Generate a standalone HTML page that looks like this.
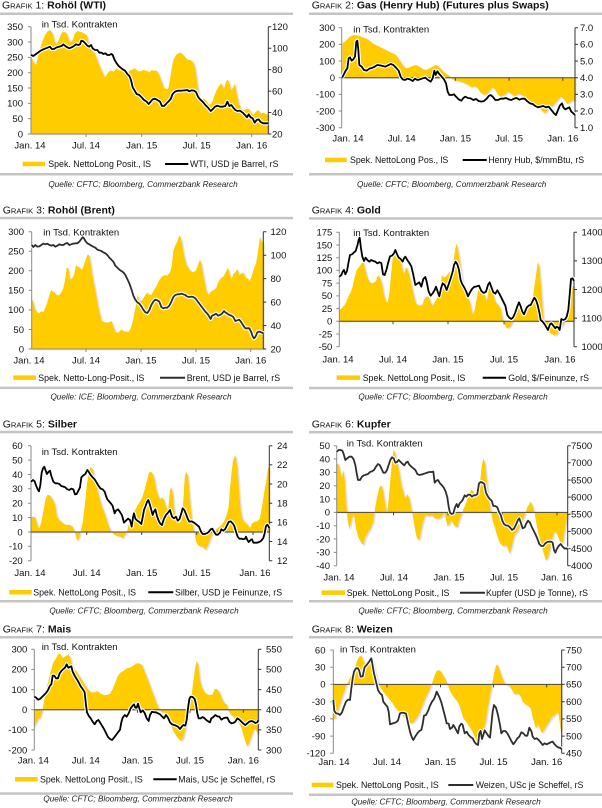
<!DOCTYPE html>
<html><head><meta charset="utf-8">
<style>
html,body{margin:0;padding:0;background:#fff;}
svg{display:block;font-family:"Liberation Sans",Arial,sans-serif;}
.tl{font-size:9.5px;fill:#111;}
.lg{font-size:8.8px;fill:#111;}
.src{font-size:8.2px;font-style:italic;fill:#222;}
.ttl{font-size:10.5px;fill:#111;}
.ax{stroke:#8a8a8a;stroke-width:1;fill:none;}
.axr{stroke:#333;stroke-width:1;fill:none;}
.zl{stroke:#444;stroke-width:1;fill:none;}
.ar{fill:#FFCC00;stroke:none;}
.rule{fill:#c4c4c4;}
</style></head>
<body>
<svg width="602" height="808" viewBox="0 0 602 808" xmlns="http://www.w3.org/2000/svg">
<defs>
<filter id="sh" x="-5%" y="-5%" width="110%" height="115%">
<feDropShadow dx="4" dy="3" stdDeviation="1.5" flood-color="#c8c8c8" flood-opacity="0.7"/>
</filter>
</defs>

<!-- ================= CHART 1 ================= -->
<text class="ttl" x="2" y="8.5">G<tspan font-size="7.6">RAFIK</tspan> 1: <tspan font-weight="bold">Rohöl (WTI)</tspan></text>
<rect class="rule" x="0" y="12.5" width="293" height="2.5"/>
<g transform="translate(0,0) scale(0.33333)">
<path class="ar" filter="url(#sh)" d="M93,402 L93,170 100,185 108,195 115,165 125,130 135,105 142,95 150,90 158,100 165,128 172,130 180,110 185,98 192,95 200,100 210,128 218,120 225,100 232,93 240,95 248,98 256,102 262,110 268,140 275,150 285,160 292,180 300,200 308,218 315,232 322,220 330,212 340,215 350,205 358,212 365,210 375,218 382,218 390,212 398,208 405,205 412,212 420,215 430,210 440,212 448,218 455,210 462,212 470,212 478,225 485,245 492,262 500,268 505,265 510,240 515,205 520,180 528,165 535,160 542,158 550,165 558,175 565,180 572,180 580,188 586,205 592,250 598,290 605,300 612,295 620,305 628,315 635,310 642,290 650,270 657,258 663,250 668,258 672,268 678,245 683,238 688,250 694,270 700,262 705,250 710,280 716,308 722,325 730,330 738,328 745,326 752,335 760,345 768,335 775,330 782,340 790,338 798,342 805,345 L805,402 Z"/>
</g>
<path class="ax" d="M31,26.7V134H268.3"/>
<path class="axr" d="M268.3,26.7V134"/>
<path class="ax" d="M28,26.7h3M28,42h3M28,57.4h3M28,72.7h3M28,88h3M28,103.4h3M28,118.7h3M28,134h3M86,134v3M141.7,134v3M196.7,134v3M251.7,134v3"/>
<path class="axr" d="M268.3,26.7h3M268.3,48.2h3M268.3,69.6h3M268.3,91.1h3M268.3,112.5h3M268.3,134h3"/>
<g transform="translate(0,0) scale(0.33333)" fill="none" stroke-linejoin="round">
<use href="#L1" stroke="#fff" stroke-width="12"/>
<g stroke="#000" stroke-width="5.4"><path id="L1" d="M93,165 100,168 108,162 115,157 122,152 130,148 138,145 145,142 150,140 155,147 162,147 170,142 178,140 185,138 190,133 196,138 202,142 208,145 215,142 222,138 228,133 235,135 240,133 244,122 250,124 256,130 262,137 268,140 273,135 278,145 285,150 292,150 298,158 305,158 310,162 316,160 322,165 328,165 334,162 338,165 344,180 350,190 356,198 362,203 368,208 375,212 382,222 388,228 393,240 398,262 404,272 410,282 418,285 425,292 432,300 440,305 446,312 452,305 458,298 465,296 472,300 480,305 486,318 492,318 498,312 505,305 512,297 518,282 525,275 535,272 545,272 555,271 562,270 568,274 575,271 582,272 588,276 594,290 600,298 608,305 616,315 624,323 632,333 638,328 645,320 652,317 660,320 668,320 676,318 682,305 688,318 694,315 700,323 706,330 712,333 720,332 728,338 735,345 741,352 746,343 752,352 758,355 764,368 770,360 776,358 782,366 790,370 798,370 805,370"/></g>
</g>
<g class="tl" text-anchor="end">
<text x="23" y="30">350</text><text x="23" y="45.3">300</text><text x="23" y="60.7">250</text><text x="23" y="76">200</text><text x="23" y="91.3">150</text><text x="23" y="106.7">100</text><text x="23" y="122">50</text><text x="23" y="137.3">0</text>
</g>
<g class="tl">
<text x="272" y="30">120</text><text x="272" y="51.5">100</text><text x="272" y="72.9">80</text><text x="272" y="94.4">60</text><text x="272" y="115.8">40</text><text x="272" y="137.3">20</text>
</g>
<g class="tl" text-anchor="middle">
<text x="30" y="148.3">Jan. 14</text><text x="86" y="148.3">Jul. 14</text><text x="141.7" y="148.3">Jan. 15</text><text x="196.7" y="148.3">Jul. 15</text><text x="251.7" y="148.3">Jan. 16</text>
</g>
<text class="tl" x="41.7" y="27.6">in Tsd. Kontrakten</text>
<rect x="22.7" y="161.7" width="22.3" height="4.5" fill="#FFCC00"/>
<text class="lg" x="48.3" y="167.2">Spek. NettoLong Posit., lS</text>
<line x1="165" y1="164" x2="188.3" y2="164" stroke="#000" stroke-width="2"/>
<text class="lg" x="190" y="167.2">WTI, USD je Barrel, rS</text>
<rect class="rule" x="0" y="173" width="293" height="2.5"/>
<text class="src" x="143" y="187" text-anchor="middle">Quelle: CFTC; Bloomberg, Commerzbank Research</text>

<!-- ================= CHART 2 ================= -->
<text class="ttl" x="311.7" y="8.5">G<tspan font-size="7.6">RAFIK</tspan> 2: <tspan font-weight="bold">Gas (Henry Hub) (Futures plus Swaps)</tspan></text>
<rect class="rule" x="309" y="12.5" width="293" height="2.5"/>
<g transform="translate(300,0) scale(0.33333)">
<path class="ar" filter="url(#sh)" d="M127,233 L127,130 135,125 142,118 150,110 158,106 168,105 178,108 188,112 198,115 208,122 218,130 228,135 238,140 248,145 258,150 268,155 278,160 288,165 298,180 308,195 318,205 328,202 338,198 348,195 358,200 368,207 378,210 388,205 398,200 408,195 415,198 422,206 430,215 440,222 448,228 455,236 465,242 475,243 485,246 495,250 505,255 515,262 525,258 533,265 542,278 552,285 562,282 570,270 578,262 586,270 594,285 604,290 614,285 624,275 634,282 644,290 654,280 664,285 674,290 684,298 694,305 704,314 714,320 724,330 733,340 742,332 752,322 762,314 772,302 782,290 792,298 802,312 812,305 825,300 L825,233 Z"/>
</g>
<path class="ax" d="M341.7,27.7V127.7"/>
<path class="zl" d="M341.7,77.7H575"/>
<path class="axr" d="M575,27.7V127.7"/>
<path class="ax" d="M338.7,27.7h3M338.7,44.4h3M338.7,61h3M338.7,77.7h3M338.7,94.4h3M338.7,111h3M338.7,127.7h3"/>
<path class="zl" d="M401.7,77.7v3M455.4,77.7v3M509.1,77.7v3M562.8,77.7v3"/>
<path class="axr" d="M575,27.7h3M575,44.4h3M575,61h3M575,77.7h3M575,94.4h3M575,111h3M575,127.7h3"/>
<g transform="translate(300,0) scale(0.33333)" fill="none" stroke-linejoin="round">
<use href="#L2" stroke="#fff" stroke-width="12"/>
<g stroke="#000" stroke-width="5.4"><path id="L2" d="M127,232 132,222 137,212 142,205 146,175 150,172 155,182 160,178 165,170 169,125 172,122 175,150 178,195 185,200 192,210 200,212 208,206 216,204 224,200 232,195 240,196 248,198 256,200 264,196 272,192 280,195 288,203 296,212 302,230 308,238 315,240 322,236 330,238 338,243 345,236 352,240 360,238 368,235 376,233 384,240 392,245 398,235 403,212 407,225 412,214 418,222 425,230 432,238 438,250 443,275 448,285 455,285 462,283 468,290 476,298 484,302 490,294 496,290 504,294 512,295 520,300 528,297 536,303 544,305 552,303 560,296 566,288 572,285 578,290 586,300 594,300 602,296 610,296 618,294 626,298 634,300 642,296 650,294 658,299 666,296 674,296 682,304 690,310 698,312 706,318 714,322 722,320 730,318 738,322 746,320 754,330 762,340 768,345 774,330 780,316 786,310 790,322 796,328 802,325 808,322 814,335 820,340 825,345"/></g>
</g>
<g class="tl" text-anchor="end">
<text x="335" y="31">300</text><text x="335" y="47.7">200</text><text x="335" y="64.3">100</text><text x="335" y="81">0</text><text x="335" y="97.7">-100</text><text x="335" y="114.3">-200</text><text x="335" y="131">-300</text>
</g>
<g class="tl">
<text x="580" y="31">7.0</text><text x="580" y="47.7">6.0</text><text x="580" y="64.3">5.0</text><text x="580" y="81">4.0</text><text x="580" y="97.7">3.0</text><text x="580" y="114.3">2.0</text><text x="580" y="131">1.0</text>
</g>
<g class="tl" text-anchor="middle">
<text x="348" y="141.3">Jan. 14</text><text x="401.7" y="141.3">Jul. 14</text><text x="455.4" y="141.3">Jan. 15</text><text x="509.1" y="141.3">Jul. 15</text><text x="562.8" y="141.3">Jan. 16</text>
</g>
<text class="tl" x="353.3" y="32.6">in Tsd. Kontrakten</text>
<rect x="325" y="157.7" width="21.7" height="4.5" fill="#FFCC00"/>
<text class="lg" x="350" y="163.2">Spek. NettoLong Pos., lS</text>
<line x1="462.7" y1="160" x2="486.7" y2="160" stroke="#000" stroke-width="2"/>
<text class="lg" x="488.3" y="163.2">Henry Hub, $/mmBtu, rS</text>
<rect class="rule" x="309" y="173" width="293" height="2.5"/>
<text class="src" x="451.7" y="187" text-anchor="middle">Quelle: CFTC; Bloomberg, Commerzbank Research</text>

<!-- ================= CHART 3 ================= -->
<text class="ttl" x="2.7" y="213.5">G<tspan font-size="7.6">RAFIK</tspan> 3: <tspan font-weight="bold">Rohöl (Brent)</tspan></text>
<rect class="rule" x="0" y="216.8" width="293" height="2.5"/>
<g transform="translate(0,195) scale(0.33333)">
<path class="ar" filter="url(#sh)" d="M95,462 L95,310 100,322 106,345 112,352 118,355 124,348 130,352 136,338 142,322 148,300 154,285 160,290 166,295 172,302 178,300 184,292 190,280 196,250 200,218 205,220 210,255 216,250 222,240 228,212 234,214 240,220 246,224 252,210 258,190 263,178 268,182 272,205 278,245 285,280 292,320 298,350 305,378 315,382 325,383 335,378 340,395 346,410 352,414 358,410 364,403 370,408 378,410 386,410 392,400 398,380 404,350 410,320 413,297 418,318 424,318 430,310 436,300 442,292 448,300 455,298 462,285 470,272 478,255 486,245 494,240 502,242 510,232 515,215 520,168 526,150 532,140 537,122 541,125 546,145 552,180 558,205 565,218 572,228 580,232 588,226 594,210 600,194 604,205 608,230 614,260 620,290 626,300 632,290 640,286 648,280 655,262 662,250 670,245 677,232 684,218 690,240 695,252 700,236 706,232 712,222 718,240 724,236 730,232 736,246 742,250 750,258 756,240 762,220 768,205 772,185 776,155 780,125 784,138 790,145 L790,462 Z"/>
</g>
<path class="ax" d="M31.7,231.7V349H263.3"/>
<path class="axr" d="M263.3,231.7V349"/>
<path class="ax" d="M28.7,231.7h3M28.7,251.3h3M28.7,270.8h3M28.7,290.4h3M28.7,309.9h3M28.7,329.5h3M28.7,349h3M86,349v3M141,349v3M196,349v3M250.7,349v3"/>
<path class="axr" d="M263.3,231.7h3M263.3,255.2h3M263.3,278.6h3M263.3,302.1h3M263.3,325.5h3M263.3,349h3"/>
<g transform="translate(0,195) scale(0.33333)" fill="none" stroke-linejoin="round">
<use href="#L3" stroke="#fff" stroke-width="12"/>
<g stroke="#2e2e2e" stroke-width="5.4"><path id="L3" d="M95,150 100,156 106,150 112,155 118,154 124,150 130,146 136,148 142,146 148,150 154,152 160,150 166,155 172,152 178,148 184,150 190,150 196,146 202,144 208,150 214,148 220,146 226,145 232,145 238,140 244,132 248,127 252,130 256,138 262,145 268,148 274,152 280,155 286,158 292,164 298,166 304,168 310,172 316,175 322,180 328,188 334,194 340,200 346,212 352,218 358,224 364,228 370,232 376,240 382,252 388,265 394,282 400,302 406,314 412,322 418,326 424,334 430,344 436,352 442,354 448,345 454,330 460,320 466,314 472,316 478,320 484,336 490,340 496,338 502,338 508,332 514,320 520,306 526,300 532,298 538,298 544,296 550,298 556,300 562,305 568,306 574,305 580,306 586,310 592,318 598,326 604,334 610,342 616,350 622,356 628,365 632,372 636,362 642,360 648,356 654,362 660,360 666,356 672,348 676,352 682,356 688,360 694,362 700,366 706,378 712,376 718,374 724,382 730,392 736,400 742,400 748,400 754,412 758,424 762,430 766,426 772,412 778,410 784,412 790,415"/></g>
</g>
<g class="tl" text-anchor="end">
<text x="24" y="235">300</text><text x="24" y="254.6">250</text><text x="24" y="274.1">200</text><text x="24" y="293.7">150</text><text x="24" y="313.2">100</text><text x="24" y="332.8">50</text><text x="24" y="352.3">0</text>
</g>
<g class="tl">
<text x="270.5" y="235">120</text><text x="270.5" y="258.5">100</text><text x="270.5" y="281.9">80</text><text x="270.5" y="305.4">60</text><text x="270.5" y="328.8">40</text><text x="270.5" y="352.3">20</text>
</g>
<g class="tl" text-anchor="middle">
<text x="29" y="363.3">Jan. 14</text><text x="86" y="363.3">Jul. 14</text><text x="141" y="363.3">Jan. 15</text><text x="196" y="363.3">Jul. 15</text><text x="250.7" y="363.3">Jan. 16</text>
</g>
<text class="tl" x="43.3" y="235.6">in Tsd. Kontrakten</text>
<rect x="13.3" y="375.4" width="22.7" height="4.5" fill="#FFCC00"/>
<text class="lg" x="38.3" y="380.9">Spek. Netto-Long-Posit., lS</text>
<line x1="160" y1="377.7" x2="185" y2="377.7" stroke="#2e2e2e" stroke-width="2"/>
<text class="lg" x="186.7" y="380.9">Brent, USD je Barrel, rS</text>
<rect class="rule" x="0" y="386.6" width="293" height="2.5"/>
<text class="src" x="141" y="399.7" text-anchor="middle">Quelle: ICE; Bloomberg, Commerzbank Research</text>

<!-- ================= CHART 4 ================= -->
<text class="ttl" x="311.7" y="213.5">G<tspan font-size="7.6">RAFIK</tspan> 4: <tspan font-weight="bold">Gold</tspan></text>
<rect class="rule" x="309" y="217.2" width="293" height="2.5"/>
<g transform="translate(300,195) scale(0.33333)">
<path class="ar" filter="url(#sh)" d="M118,378 L118,345 125,340 132,332 138,322 145,305 152,292 158,275 163,250 170,225 178,215 185,205 190,198 196,225 203,250 210,262 216,265 222,262 228,258 234,240 240,248 246,265 252,300 258,320 263,322 268,295 273,240 278,190 284,175 290,178 296,182 303,198 308,225 312,240 317,218 322,220 328,240 334,265 340,295 346,320 352,330 360,332 367,330 373,312 379,305 386,305 392,322 398,332 404,322 410,312 416,298 421,270 426,240 432,248 438,245 444,236 450,232 456,222 461,195 466,160 470,145 474,165 480,200 486,245 492,275 498,298 504,308 510,322 515,345 519,360 524,345 529,315 535,285 541,288 548,292 554,300 560,318 564,300 569,262 574,270 580,298 586,320 594,328 602,340 608,370 614,390 620,400 626,398 632,392 638,382 644,362 650,340 655,320 660,335 666,352 672,352 678,342 684,330 690,325 696,312 700,298 705,262 710,225 714,200 718,215 722,258 726,310 730,365 734,398 740,408 746,410 752,415 758,418 764,422 770,418 776,410 782,400 788,390 794,382 800,360 806,325 812,295 818,275 822,270 L822,378 Z"/>
</g>
<path class="ax" d="M339.3,232.3V346.7"/>
<path class="zl" d="M339.3,321.3H574"/>
<path class="axr" d="M574,232.3V346.7"/>
<path class="ax" d="M336.3,232.3h3M336.3,245h3M336.3,257.7h3M336.3,270.4h3M336.3,283.1h3M336.3,295.9h3M336.3,308.6h3M336.3,321.3h3M336.3,334h3M336.3,346.7h3"/>
<path class="zl" d="M393,321.3v3M448,321.3v3M504,321.3v3M560,321.3v3"/>
<path class="axr" d="M574,232.3h3M574,260.9h3M574,289.5h3M574,318.1h3M574,346.7h3"/>
<g transform="translate(300,195) scale(0.33333)" fill="none" stroke-linejoin="round">
<use href="#L4" stroke="#fff" stroke-width="12"/>
<g stroke="#000" stroke-width="5.4"><path id="L4" d="M118,245 124,240 128,230 132,225 136,238 141,228 146,200 150,180 156,178 162,172 167,168 172,152 176,135 179,128 183,160 187,185 192,198 197,188 202,195 208,200 214,195 220,198 226,200 232,205 238,202 244,204 249,238 254,240 260,222 264,205 270,184 276,182 282,175 286,165 290,175 296,188 302,192 308,200 312,190 316,185 322,195 328,204 334,214 340,240 346,270 352,266 358,262 364,275 370,252 376,246 380,260 386,290 392,302 398,295 404,285 408,275 413,290 418,304 423,280 428,265 434,270 440,285 446,268 452,250 458,230 462,210 467,200 472,208 477,225 482,256 487,268 492,276 498,288 504,304 510,292 516,282 522,276 530,274 537,272 544,288 551,294 558,290 564,270 569,262 574,276 580,292 586,296 592,286 598,296 604,308 610,320 616,332 622,360 628,368 634,372 640,366 646,352 652,334 657,322 662,334 667,350 672,358 676,348 680,338 686,332 692,330 698,318 703,308 708,315 713,330 718,352 722,375 728,380 734,388 740,398 744,405 750,388 754,385 760,392 766,400 770,395 775,398 779,405 784,372 790,375 796,372 800,365 805,345 809,300 813,252 818,250 822,258"/></g>
</g>
<g class="tl" text-anchor="end">
<text x="332.3" y="235.6">175</text><text x="332.3" y="248.3">150</text><text x="332.3" y="261">125</text><text x="332.3" y="273.7">100</text><text x="332.3" y="286.4">75</text><text x="332.3" y="299.2">50</text><text x="332.3" y="311.9">25</text><text x="332.3" y="324.6">0</text><text x="332.3" y="337.3">-25</text><text x="332.3" y="350">-50</text>
</g>
<g class="tl">
<text x="581.5" y="235.6">1400</text><text x="581.5" y="264.2">1300</text><text x="581.5" y="292.8">1200</text><text x="581.5" y="321.4">1100</text><text x="581.5" y="350">1000</text>
</g>
<g class="tl" text-anchor="middle">
<text x="338" y="362.3">Jan. 14</text><text x="393" y="362.3">Jul. 14</text><text x="448" y="362.3">Jan. 15</text><text x="504" y="362.3">Jul. 15</text><text x="560" y="362.3">Jan. 16</text>
</g>
<text class="tl" x="353.3" y="236">in Tsd. Kontrakten</text>
<rect x="336.7" y="375.4" width="23.3" height="4.5" fill="#FFCC00"/>
<text class="lg" x="362.7" y="380.9">Spek. NettoLong Posit., lS</text>
<line x1="482.7" y1="377.7" x2="506" y2="377.7" stroke="#000" stroke-width="2"/>
<text class="lg" x="508.3" y="380.9">Gold, $/Feinunze, rS</text>
<rect class="rule" x="309" y="386.8" width="293" height="2.5"/>
<text class="src" x="453" y="399.7" text-anchor="middle">Quelle: CFTC; Bloomberg, Commerzbank Research</text>

<!-- ================= CHART 5 ================= -->
<text class="ttl" x="2.7" y="427.5">G<tspan font-size="7.6">RAFIK</tspan> 5: <tspan font-weight="bold">Silber</tspan></text>
<rect class="rule" x="0" y="430.8" width="293" height="2.5"/>
<g transform="translate(0,400) scale(0.33333)">
<path class="ar" filter="url(#sh)" d="M93,396 L93,352 100,350 106,352 112,375 118,385 124,365 130,335 136,300 142,285 148,285 154,292 160,302 166,315 170,345 176,358 184,365 192,372 200,375 210,375 218,380 224,395 230,418 234,422 238,410 243,390 249,362 255,310 261,250 266,220 272,200 278,208 284,232 292,268 300,300 308,325 316,345 324,372 332,392 340,402 350,408 360,410 368,415 374,405 380,398 386,375 392,362 398,345 404,332 410,322 416,310 422,302 428,288 434,268 440,245 446,222 450,215 456,218 462,232 468,262 474,285 480,298 486,292 492,300 498,320 504,330 510,270 514,262 518,278 524,338 532,368 540,368 546,355 550,300 554,235 558,215 564,228 570,300 576,360 582,390 588,425 594,435 600,440 606,438 612,445 616,450 622,440 628,425 634,408 640,396 648,388 656,382 664,376 672,365 680,345 686,320 690,265 695,215 700,178 706,165 712,200 718,280 722,330 728,358 736,368 744,375 750,385 756,370 764,365 772,364 780,355 786,320 792,280 798,248 804,205 808,200 L808,396 Z"/>
</g>
<path class="ax" d="M31,445.7V560.7"/>
<path class="zl" d="M31,532H269.3"/>
<path class="axr" d="M269.3,445.7V560.7"/>
<path class="ax" d="M28,445.7h3M28,460.1h3M28,474.5h3M28,488.8h3M28,503.2h3M28,517.6h3M28,532h3M28,546.3h3M28,560.7h3"/>
<path class="zl" d="M86.7,532v3M141.7,532v3M196.7,532v3M253,532v3"/>
<path class="axr" d="M269.3,445.7h3M269.3,464.9h3M269.3,484h3M269.3,503.2h3M269.3,522.4h3M269.3,541.5h3M269.3,560.7h3"/>
<g transform="translate(0,400) scale(0.33333)" fill="none" stroke-linejoin="round">
<use href="#L5" stroke="#fff" stroke-width="12"/>
<g stroke="#000" stroke-width="5.4"><path id="L5" d="M93,245 99,240 104,244 108,256 113,268 117,274 121,255 125,218 129,205 133,200 137,212 141,222 146,215 150,212 154,228 160,245 166,250 172,250 178,252 184,258 190,260 196,262 202,268 208,270 214,266 220,268 225,283 230,282 235,272 240,262 244,232 250,226 256,222 262,210 266,215 272,225 278,232 284,238 290,248 296,258 302,266 308,268 314,275 318,288 322,298 328,305 334,312 338,318 344,340 348,332 354,328 360,336 366,346 372,368 378,362 384,356 390,360 395,380 399,352 402,340 406,356 412,362 418,366 424,372 428,352 432,330 436,320 441,306 445,300 449,312 454,330 458,345 462,334 466,328 471,348 476,362 480,370 486,375 492,356 498,345 504,338 510,330 516,350 522,355 528,350 533,362 538,358 544,340 548,325 553,330 558,342 564,358 568,365 575,364 582,368 590,374 597,380 603,395 608,402 614,402 620,400 626,396 632,388 637,386 642,395 648,404 654,404 660,398 664,388 670,392 675,388 680,378 686,366 692,364 698,370 703,378 708,395 713,410 718,416 724,416 730,418 735,416 738,410 742,420 746,426 752,420 756,418 760,428 766,428 772,428 778,426 784,422 790,414 794,400 798,378 802,374 806,380 808,385"/></g>
</g>
<g class="tl" text-anchor="end">
<text x="22.7" y="449">60</text><text x="22.7" y="463.4">50</text><text x="22.7" y="477.8">40</text><text x="22.7" y="492.1">30</text><text x="22.7" y="506.5">20</text><text x="22.7" y="520.9">10</text><text x="22.7" y="535.3">0</text><text x="22.7" y="549.6">-10</text><text x="22.7" y="564">-20</text>
</g>
<g class="tl">
<text x="277" y="449">24</text><text x="277" y="468.2">22</text><text x="277" y="487.3">20</text><text x="277" y="506.5">18</text><text x="277" y="525.7">16</text><text x="277" y="544.8">14</text><text x="277" y="564">12</text>
</g>
<g class="tl" text-anchor="middle">
<text x="30" y="576">Jan. 14</text><text x="86.7" y="576">Jul. 14</text><text x="141.7" y="576">Jan. 15</text><text x="196.7" y="576">Jul. 15</text><text x="255" y="576">Jan. 16</text>
</g>
<text class="tl" x="41.7" y="455">in Tsd. Kontrakten</text>
<rect x="9.3" y="590" width="22.4" height="4.5" fill="#FFCC00"/>
<text class="lg" x="33.3" y="595.5">Spek. NettoLong Posit., lS</text>
<line x1="148.3" y1="592.3" x2="173.3" y2="592.3" stroke="#000" stroke-width="2"/>
<text class="lg" x="175" y="595.5">Silber, USD je Feinunze, rS</text>
<rect class="rule" x="0" y="600" width="293" height="2.5"/>
<text class="src" x="144" y="613.7" text-anchor="middle">Quelle: CFTC; Bloomberg, Commerzbank Research</text>

<!-- ================= CHART 6 ================= -->
<text class="ttl" x="311.7" y="427.5">G<tspan font-size="7.6">RAFIK</tspan> 6: <tspan font-weight="bold">Kupfer</tspan></text>
<rect class="rule" x="309" y="431" width="293" height="2.5"/>
<g transform="translate(300,400) scale(0.33333)">
<path class="ar" filter="url(#sh)" d="M110,337 L110,195 115,190 120,210 125,232 130,210 134,240 138,300 143,360 148,388 152,372 156,352 162,345 168,385 174,410 180,422 186,432 190,435 196,412 204,398 212,385 220,365 226,320 232,288 238,262 244,255 250,275 256,315 261,340 266,300 271,240 276,185 281,148 286,162 292,190 298,215 304,255 310,275 316,298 322,282 328,295 333,320 338,345 343,375 348,405 353,418 358,420 363,395 368,370 374,350 380,345 386,350 392,346 398,348 405,355 412,356 420,356 428,346 434,338 438,360 443,380 448,372 454,362 460,372 466,380 472,382 478,360 484,345 490,328 496,315 502,298 508,280 513,270 518,272 524,282 530,276 536,258 541,238 545,200 550,175 555,190 560,238 566,295 572,330 578,362 584,382 590,402 596,420 602,432 610,440 616,435 622,440 628,462 634,445 640,418 646,400 652,396 658,382 664,368 670,355 676,340 682,322 688,312 692,305 698,318 704,340 710,375 716,405 722,425 728,448 734,470 738,482 744,472 750,448 756,420 762,398 768,396 774,410 780,425 786,440 791,412 796,380 800,360 803,352 L803,337 Z"/>
</g>
<path class="ax" d="M336.7,445.7V565.7"/>
<path class="zl" d="M336.7,512.4H567.7"/>
<path class="axr" d="M567.7,445.7V565.7"/>
<path class="ax" d="M333.7,445.7h3M333.7,459h3M333.7,472.4h3M333.7,485.7h3M333.7,499h3M333.7,512.4h3M333.7,525.7h3M333.7,539h3M333.7,552.4h3M333.7,565.7h3"/>
<path class="zl" d="M393.5,512.4v3M448,512.4v3M502.5,512.4v3M557,512.4v3"/>
<path class="axr" d="M567.7,445.7h3M567.7,462.8h3M567.7,480h3M567.7,497.1h3M567.7,514.3h3M567.7,531.4h3M567.7,548.6h3M567.7,565.7h3"/>
<g transform="translate(300,400) scale(0.33333)" fill="none" stroke-linejoin="round">
<use href="#L6" stroke="#fff" stroke-width="12"/>
<g stroke="#2e2e2e" stroke-width="5.4"><path id="L6" d="M110,155 116,150 122,150 127,152 131,162 136,180 142,175 148,170 155,170 161,178 166,195 170,220 174,240 180,240 186,230 192,226 198,224 204,222 210,216 216,214 222,210 228,200 234,192 239,195 244,205 250,218 256,218 261,210 266,195 271,180 276,172 281,175 286,188 291,186 296,180 302,186 308,192 313,196 318,188 323,185 328,194 334,200 340,205 346,210 352,222 358,225 364,224 370,222 376,220 382,218 388,216 394,216 400,215 404,248 409,242 414,240 420,250 426,256 432,264 437,275 442,292 446,320 450,338 455,342 460,340 465,322 470,312 474,322 479,310 484,305 488,300 494,286 499,290 504,284 510,284 516,290 521,286 527,286 532,282 537,250 542,246 548,248 553,252 558,278 564,290 570,298 575,302 580,318 586,318 592,322 597,336 602,344 607,362 612,372 617,376 624,377 630,382 636,390 642,386 648,374 654,360 658,355 663,370 668,385 674,382 678,372 684,362 690,368 695,380 700,390 706,402 712,416 718,432 724,438 730,438 736,430 742,426 748,425 754,425 758,428 762,450 766,458 770,448 776,438 782,432 788,440 794,446 800,445 803,448"/></g>
</g>
<g class="tl" text-anchor="end">
<text x="330" y="449">50</text><text x="330" y="462.3">40</text><text x="330" y="475.7">30</text><text x="330" y="489">20</text><text x="330" y="502.3">10</text><text x="330" y="515.7">0</text><text x="330" y="529">-10</text><text x="330" y="542.3">-20</text><text x="330" y="555.7">-30</text><text x="330" y="569">-40</text>
</g>
<g class="tl">
<text x="571" y="449">7500</text><text x="571" y="466.1">7000</text><text x="571" y="483.3">6500</text><text x="571" y="500.4">6000</text><text x="571" y="517.6">5500</text><text x="571" y="534.7">5000</text><text x="571" y="551.9">4500</text><text x="571" y="569">4000</text>
</g>
<g class="tl" text-anchor="middle">
<text x="339" y="580.3">Jan. 14</text><text x="394" y="580.3">Jul. 14</text><text x="449" y="580.3">Jan. 15</text><text x="504" y="580.3">Jul. 15</text><text x="556.7" y="580.3">Jan. 16</text>
</g>
<text class="tl" x="346.7" y="446.6">in Tsd. Kontrakten</text>
<rect x="321.7" y="590.4" width="23.3" height="4.5" fill="#FFCC00"/>
<text class="lg" x="346.7" y="595.9">Spek. NettoLong Posit., lS</text>
<line x1="460" y1="592.7" x2="485" y2="592.7" stroke="#2e2e2e" stroke-width="2"/>
<text class="lg" x="486" y="595.9">Kupfer (USD je Tonne), rS</text>
<rect class="rule" x="309" y="600" width="293" height="2.5"/>
<text class="src" x="453" y="613.7" text-anchor="middle">Quelle: CFTC; Bloomberg, Commerzbank Research</text>

<!-- ================= CHART 7 ================= -->
<text class="ttl" x="2.7" y="632.5">G<tspan font-size="7.6">RAFIK</tspan> 7: <tspan font-weight="bold">Mais</tspan></text>
<rect class="rule" x="0" y="636" width="293" height="2.5"/>
<g transform="translate(0,605) scale(0.33333)">
<path class="ar" filter="url(#sh)" d="M103,314 L103,370 108,355 114,342 120,340 126,322 132,290 138,255 145,230 152,200 160,172 168,160 176,145 182,148 188,160 194,155 200,152 206,148 212,160 218,185 224,195 230,200 238,213 246,225 255,240 265,255 275,262 285,262 292,258 300,265 310,270 320,270 330,266 338,252 346,232 354,212 362,202 370,198 380,190 390,188 400,182 410,175 418,175 426,180 432,195 440,215 448,235 456,258 464,278 472,300 478,312 484,322 492,322 500,330 508,345 514,365 520,378 528,392 536,402 544,408 550,398 556,375 562,345 568,310 574,275 580,230 586,185 590,168 595,180 600,225 606,248 614,262 622,268 630,270 638,268 644,252 650,252 656,258 662,270 668,285 674,295 680,298 686,318 692,328 700,336 708,345 716,352 724,368 730,388 736,410 742,425 748,412 754,395 760,378 766,370 772,385 775,392 L775,314 Z"/>
</g>
<path class="ax" d="M34.3,649.3V750"/>
<path class="zl" d="M34.3,709.7H258.3"/>
<path class="axr" d="M258.3,649.3V750"/>
<path class="ax" d="M31.3,649.3h3M31.3,669.4h3M31.3,689.6h3M31.3,709.7h3M31.3,729.9h3M31.3,750h3"/>
<path class="zl" d="M85.8,709.7v3M137.5,709.7v3M190,709.7v3M243.3,709.7v3"/>
<path class="axr" d="M258.3,649.3h3M258.3,669.4h3M258.3,689.6h3M258.3,709.7h3M258.3,729.9h3M258.3,750h3"/>
<g transform="translate(0,605) scale(0.33333)" fill="none" stroke-linejoin="round">
<use href="#L7" stroke="#fff" stroke-width="12"/>
<g stroke="#000" stroke-width="5.4"><path id="L7" d="M103,275 108,278 114,284 120,282 126,276 132,270 138,264 144,255 150,242 154,238 158,212 163,212 168,220 174,220 179,205 184,198 190,192 195,188 200,178 205,188 210,186 214,184 218,200 224,212 230,222 236,232 242,244 248,252 254,262 258,300 261,322 266,332 272,340 278,350 284,358 290,348 295,345 300,352 306,362 312,372 318,384 324,396 330,402 336,405 342,398 348,390 354,382 360,374 364,352 368,338 374,330 380,335 386,325 392,310 398,302 402,298 406,308 410,308 414,296 418,310 422,322 428,316 434,324 440,340 446,348 450,330 456,320 462,322 468,322 474,325 480,328 486,334 492,340 498,330 504,338 510,352 516,358 522,360 528,362 534,365 540,372 546,364 550,360 556,362 560,345 564,310 568,282 572,275 578,276 584,282 588,298 592,325 596,340 602,340 608,336 614,340 620,346 626,350 630,352 634,340 640,336 646,330 652,334 658,335 664,344 670,340 676,338 682,338 688,350 694,355 700,354 706,350 712,340 718,344 724,350 730,356 736,360 742,355 748,350 754,348 760,350 766,354 772,352 775,346"/></g>
</g>
<g class="tl" text-anchor="end">
<text x="27.3" y="652.6">300</text><text x="27.3" y="672.7">200</text><text x="27.3" y="692.9">100</text><text x="27.3" y="713">0</text><text x="27.3" y="733.2">-100</text><text x="27.3" y="753.3">-200</text>
</g>
<g class="tl">
<text x="266" y="652.6">550</text><text x="266" y="672.7">500</text><text x="266" y="692.9">450</text><text x="266" y="713">400</text><text x="266" y="733.2">350</text><text x="266" y="753.3">300</text>
</g>
<g class="tl" text-anchor="middle">
<text x="33.3" y="763.3">Jan. 14</text><text x="85.8" y="763.3">Jul. 14</text><text x="137.5" y="763.3">Jan. 15</text><text x="190" y="763.3">Jul. 15</text><text x="243.3" y="763.3">Jan. 16</text>
</g>
<text class="tl" x="41.7" y="650">in Tsd. Kontrakten</text>
<rect x="15" y="777" width="22.7" height="4.5" fill="#FFCC00"/>
<text class="lg" x="40" y="782.5">Spek. NettoLong Posit., lS</text>
<line x1="153.3" y1="779.3" x2="176.7" y2="779.3" stroke="#000" stroke-width="2"/>
<text class="lg" x="178.3" y="782.5">Mais, USc je Scheffel, rS</text>
<rect class="rule" x="0" y="792.3" width="293" height="2.5"/>
<text class="src" x="138" y="801.3" text-anchor="middle">Quelle: CFTC; Bloomberg, Commerzbank Research</text>

<!-- ================= CHART 8 ================= -->
<text class="ttl" x="311.7" y="632.5">G<tspan font-size="7.6">RAFIK</tspan> 8: <tspan font-weight="bold">Weizen</tspan></text>
<rect class="rule" x="309" y="636" width="293" height="2.5"/>
<g transform="translate(300,605) scale(0.33333)">
<path class="ar" filter="url(#sh)" d="M100,238 L100,345 105,340 112,320 120,298 128,272 136,250 145,230 153,212 160,198 167,180 172,165 178,155 184,152 190,165 196,178 202,182 208,170 214,160 220,172 226,200 232,222 238,242 246,255 256,268 266,280 276,292 286,308 296,320 306,330 316,340 326,352 336,355 346,345 356,330 366,305 376,280 386,260 396,235 404,210 410,198 418,195 426,205 434,218 442,235 450,258 458,272 466,282 474,292 482,312 490,340 500,352 510,368 520,385 528,405 534,420 540,408 546,392 552,372 558,345 564,305 570,272 576,240 582,205 588,182 592,178 598,192 604,212 612,230 620,242 628,243 636,255 644,268 652,266 660,270 668,290 676,298 684,302 692,310 700,345 708,370 714,358 720,372 726,385 734,372 740,362 748,350 756,336 764,330 772,322 776,328 780,360 783,382 785,385 L785,238 Z"/>
</g>
<path class="ax" d="M333.3,650V753.3"/>
<path class="zl" d="M333.3,684.4H561.7"/>
<path class="axr" d="M561.7,650V753.3"/>
<path class="ax" d="M330.3,650h3M330.3,667.2h3M330.3,684.4h3M330.3,701.7h3M330.3,718.9h3M330.3,736.1h3M330.3,753.3h3"/>
<path class="zl" d="M387,684.4v3M440.5,684.4v3M493.5,684.4v3M546.7,684.4v3"/>
<path class="axr" d="M561.7,650h3M561.7,667.2h3M561.7,684.4h3M561.7,701.7h3M561.7,718.9h3M561.7,736.1h3M561.7,753.3h3"/>
<g transform="translate(300,605) scale(0.33333)" fill="none" stroke-linejoin="round">
<use href="#L8" stroke="#fff" stroke-width="12"/>
<g stroke="#2e2e2e" stroke-width="5.4"><path id="L8" d="M100,285 103,318 108,325 114,326 120,330 126,322 132,305 138,290 144,284 150,285 154,250 158,220 162,200 168,190 174,190 178,198 182,215 188,214 194,186 200,180 206,172 210,166 214,160 218,182 222,205 228,230 234,255 240,265 246,270 250,290 256,298 262,305 266,320 270,358 276,356 282,354 288,352 294,346 300,325 306,323 312,324 318,326 324,354 330,380 336,398 340,405 346,394 352,385 358,378 364,375 368,358 372,332 378,330 384,318 390,302 396,290 402,282 406,272 410,260 414,268 418,276 424,292 430,315 436,338 440,355 446,356 450,372 456,368 460,360 466,370 470,378 474,385 478,364 484,356 488,360 494,385 500,380 506,390 512,396 518,400 524,412 530,418 534,420 538,385 542,378 546,402 550,390 554,376 560,385 566,394 570,398 574,360 578,320 582,300 588,308 594,330 600,360 604,385 610,378 616,378 622,385 628,396 634,408 640,418 646,410 652,400 658,395 664,382 670,385 676,392 682,392 688,368 694,378 698,395 704,402 710,400 716,405 722,412 728,420 734,415 740,418 746,415 752,412 758,410 764,418 770,424 776,428 780,428 785,432"/></g>
</g>
<g class="tl" text-anchor="end">
<text x="325.5" y="653.3">60</text><text x="325.5" y="670.5">30</text><text x="325.5" y="687.7">0</text><text x="325.5" y="705">-30</text><text x="325.5" y="722.2">-60</text><text x="325.5" y="739.4">-90</text><text x="325.5" y="756.6">-120</text>
</g>
<g class="tl">
<text x="566" y="653.3">750</text><text x="566" y="670.5">700</text><text x="566" y="687.7">650</text><text x="566" y="705">600</text><text x="566" y="722.2">550</text><text x="566" y="739.4">500</text><text x="566" y="756.6">450</text>
</g>
<g class="tl" text-anchor="middle">
<text x="334" y="765">Jan. 14</text><text x="387" y="765">Jul. 14</text><text x="440.5" y="765">Jan. 15</text><text x="493.5" y="765">Jul. 15</text><text x="546.7" y="765">Jan. 16</text>
</g>
<text class="tl" x="340" y="652.4">in Tsd. Kontrakten</text>
<rect x="311.7" y="782.7" width="21.6" height="4.5" fill="#FFCC00"/>
<text class="lg" x="336" y="788.2">Spek. NettoLong Posit., lS</text>
<line x1="448.3" y1="785" x2="473.3" y2="785" stroke="#2e2e2e" stroke-width="2"/>
<text class="lg" x="475.7" y="788.2">Weizen, USc je Scheffel, rS</text>
<rect class="rule" x="309" y="793.5" width="293" height="2.5"/>
<text class="src" x="446" y="804.7" text-anchor="middle">Quelle: CFTC; Bloomberg, Commerzbank Research</text>

</svg>
</body></html>
